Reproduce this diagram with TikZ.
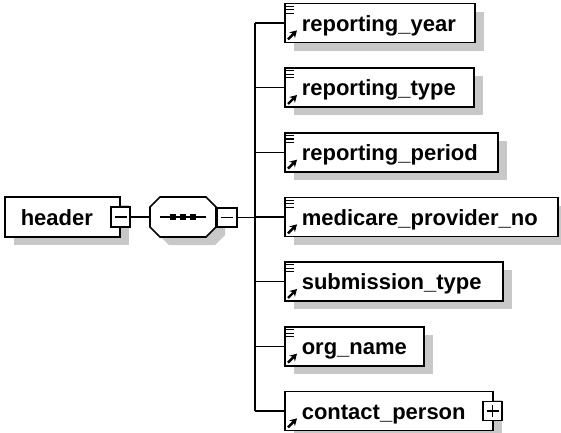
\documentclass[tikz,border=0pt]{standalone}
\usepackage{fontspec}
\setmainfont{Liberation Sans}
\usetikzlibrary{arrows.meta,shadows}
\definecolor{shadowgray}{RGB}{200,200,200}
\tikzset{
  elem/.style={draw, fill=white, line width=1.6pt, minimum height=39pt, anchor=west,
    inner xsep=0pt, inner ysep=0pt, align=left, text height=16pt, text depth=0pt,
    font=\bfseries\fontsize{22}{22}\selectfont,
    drop shadow={shadow xshift=9pt, shadow yshift=-8pt, fill=shadowgray, opacity=1}},
  toggle/.style={draw, fill=white, line width=1.5pt, minimum width=19pt, minimum height=20pt, inner sep=0pt},
  wire/.style={line width=1.6pt},
  ref/.style={line width=2.4pt, -{Stealth[length=7pt,width=8pt]}},
}

\begin{document}
\begin{tikzpicture}[x=1pt,y=-1pt]
    \useasboundingbox (0,0) rectangle (561,432);
    % root element
    \node[elem, text width=115pt, minimum height=40pt] (header) at (4,217) {\hspace*{16pt}header};
    \node[toggle] (hdrtoggle) at (header.east) {};
    \draw[wire] ([xshift=-6pt]hdrtoggle.center) -- ([xshift=6pt]hdrtoggle.center);
    % sequence compositor
    \node[minimum width=66pt, minimum height=40pt, inner sep=0pt] (seq) at (183,217) {};
    \fill[shadowgray, shift={(9,8)}] (150,207) -- (160,197) -- (206,197) -- (216,207)
        -- (216,227) -- (206,237) -- (160,237) -- (150,227) -- cycle;
    \draw[wire, fill=white] (150,207) -- (160,197) -- (206,197) -- (216,207)
        -- (216,227) -- (206,237) -- (160,237) -- (150,227) -- cycle;
    \draw[wire] (160,217) -- (206,217);
    \foreach \x in {173,183,193}
        \fill (\x-3,214) rectangle ++(6,6);
    \node[toggle, minimum width=20pt, minimum height=19pt] (seqtoggle) at (227,217.5) {};
    \draw[wire] ([xshift=-6pt]seqtoggle.center) -- ([xshift=6pt]seqtoggle.center);
    \draw[wire] (hdrtoggle.east) -- (seq.west);
    \coordinate (trunk) at (255,217.5);
    \draw[wire] (seqtoggle.east) -- (trunk);
    % child elements
    \foreach \name/\txt/\w [count=\i from 0] in {year/reporting\_year/190,
        rtype/reporting\_type/189, period/reporting\_period/213,
        provider/medicare\_provider\_no/273, subtype/submission\_type/218,
        org/org\_name/139, contact/contact\_person/208}{
        \pgfmathsetmacro\y{23+64.67*\i}
        \coordinate (j\name) at (255,\y);
        \node[elem, text width=\w pt] (\name) at (284,\y) {\hspace*{17pt}\txt};
        \draw[wire] (j\name) -- (\name.west);
        \draw[ref] ([shift={(4pt,4pt)}]\name.south west) -- ++(9,-9);
    }
    \draw[wire] (jyear) -- (jcontact);
    % simple type marks
    \foreach \name in {year, rtype, period, provider, subtype, org}
        \foreach \d in {3.5,7,10.5}
            \draw[line width=1.1pt] ([shift={(2pt,-\d pt)}]\name.north west) -- ++(8,0);
    \node[toggle, minimum height=19pt] (contacttoggle) at ([xshift=-1pt]contact.east) {};
    \draw[wire] ([xshift=-6pt]contacttoggle.center) -- ([xshift=6pt]contacttoggle.center);
    \draw[wire] ([yshift=-6pt]contacttoggle.center) -- ([yshift=6pt]contacttoggle.center);
\end{tikzpicture}
\end{document}
